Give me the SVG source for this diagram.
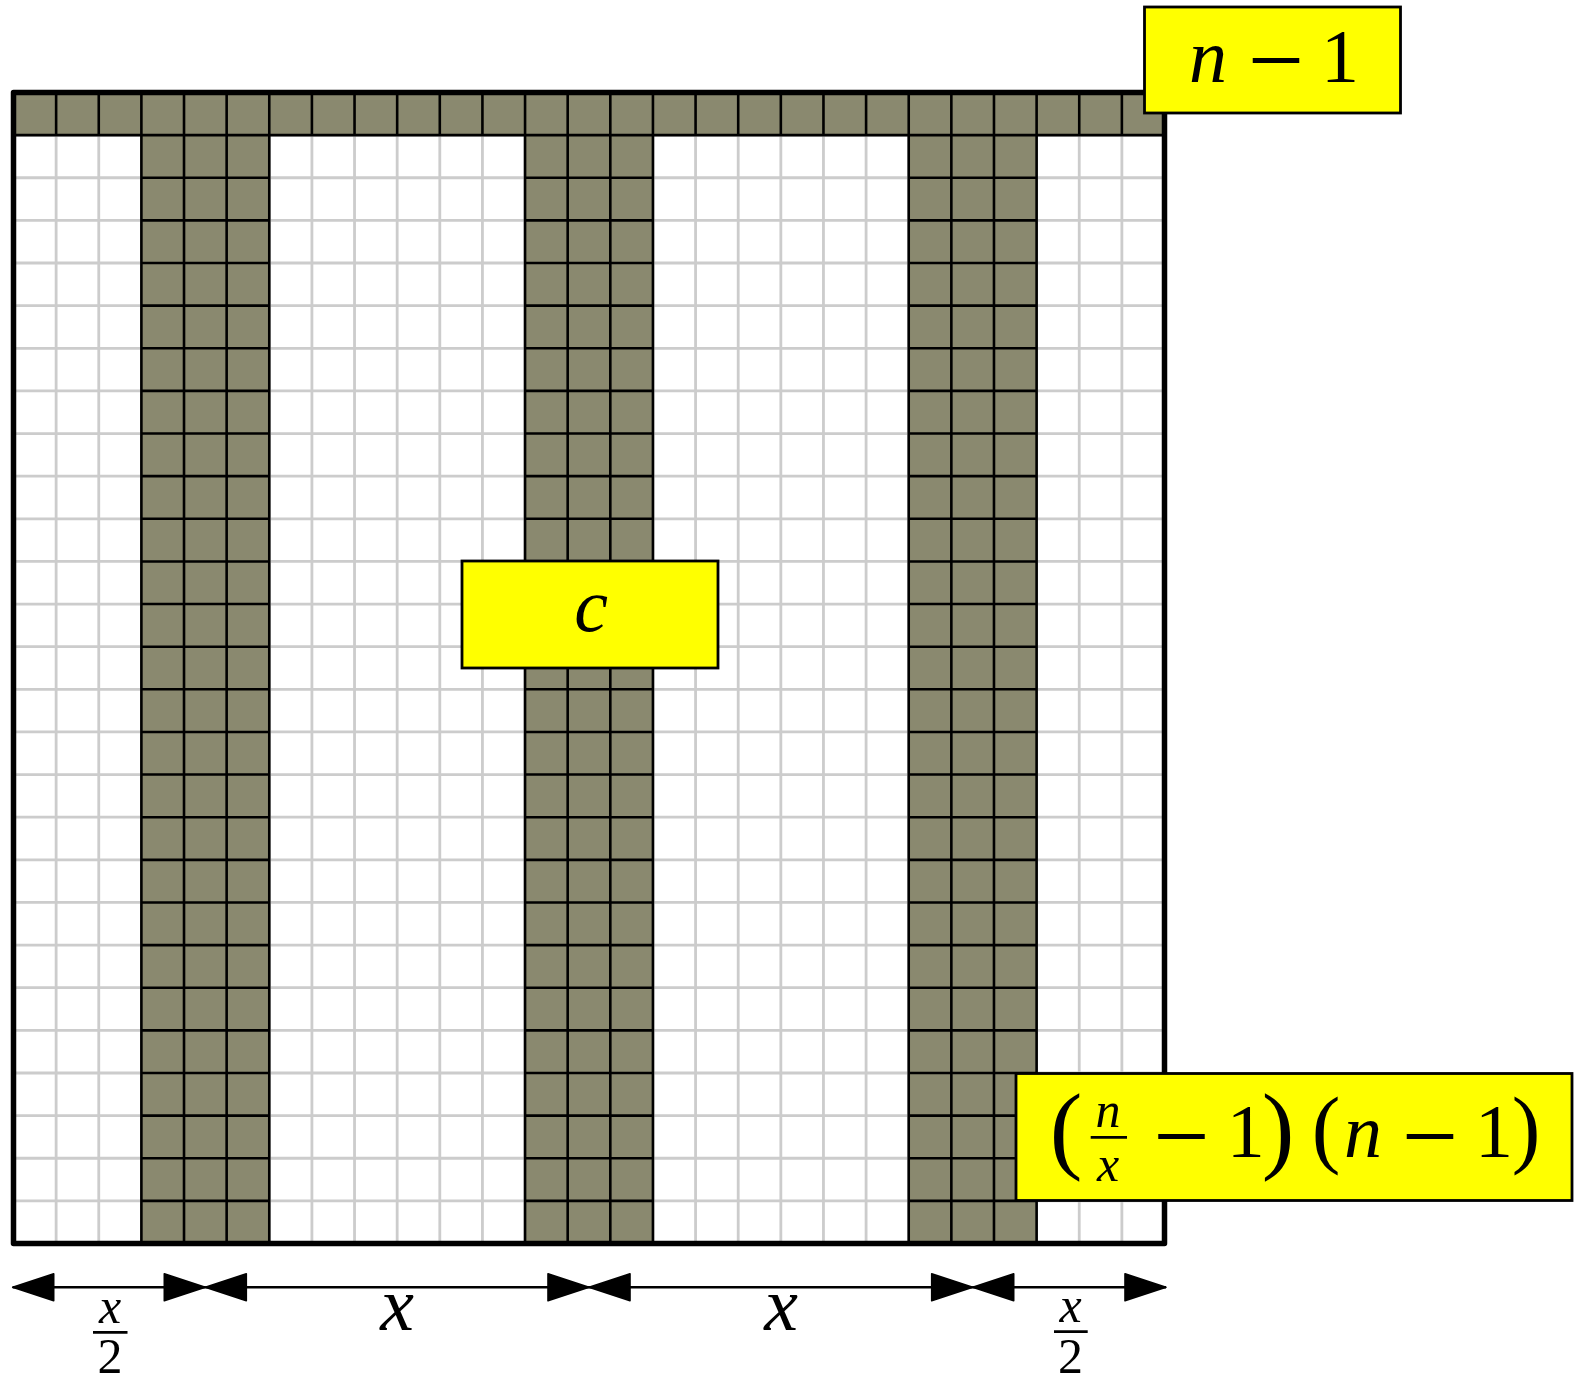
<svg xmlns="http://www.w3.org/2000/svg" width="1580" height="1379" viewBox="0 0 1580 1379">
<style>
.lbl{fill:#ffff00;stroke:#000;stroke-width:2.8}
.t{font-family:"Liberation Serif","Times New Roman",serif;fill:#000;text-anchor:middle}
.i{font-style:italic}
.big{font-size:76px}
.sm{font-size:50px}
.mn{font-size:100px;font-style:normal}
.bar{stroke:#000;stroke-width:2.7}
.dim{stroke:#000;stroke-width:2.6;fill:none;marker-start:url(#ah);marker-end:url(#ah)}
.gl{stroke:#cccccc;stroke-width:2.8;fill:none;vector-effect:non-scaling-stroke}
.bl{stroke:#000;stroke-width:2.6;fill:none;vector-effect:non-scaling-stroke}
.dk{fill:#8a896f}
</style>
<defs>
<marker id="ah" markerUnits="userSpaceOnUse" orient="auto-start-reverse" markerWidth="50" markerHeight="36" viewBox="-4 -18 50 36" refX="41" refY="0">
<path d="M0,-13.5 L41,0 L0,13.5 Z" fill="#000" stroke="#000" stroke-width="1.6" stroke-linejoin="round"/>
</marker>
</defs>
<rect width="1580" height="1379" fill="#fff"/>
<g id="grid">
<g transform="translate(13.5,92.5) scale(42.6296)">
<rect x="0" y="0" width="27" height="27" fill="#fff"/>
<path class="gl" d="M1,0V27M2,0V27M3,0V27M4,0V27M5,0V27M6,0V27M7,0V27M8,0V27M9,0V27M10,0V27M11,0V27M12,0V27M13,0V27M14,0V27M15,0V27M16,0V27M17,0V27M18,0V27M19,0V27M20,0V27M21,0V27M22,0V27M23,0V27M24,0V27M25,0V27M26,0V27M0,1H27M0,2H27M0,3H27M0,4H27M0,5H27M0,6H27M0,7H27M0,8H27M0,9H27M0,10H27M0,11H27M0,12H27M0,13H27M0,14H27M0,15H27M0,16H27M0,17H27M0,18H27M0,19H27M0,20H27M0,21H27M0,22H27M0,23H27M0,24H27M0,25H27M0,26H27"/>
<rect class="dk" x="0" y="0" width="27" height="1"/>
<rect class="dk" x="3" y="0" width="3" height="27"/>
<rect class="dk" x="12" y="0" width="3" height="27"/>
<rect class="dk" x="21" y="0" width="3" height="27"/>
<path class="bl" d="M1,0V1M2,0V1M7,0V1M8,0V1M9,0V1M10,0V1M11,0V1M16,0V1M17,0V1M18,0V1M19,0V1M20,0V1M25,0V1M26,0V1M0,1H27M3,0V27M4,0V27M5,0V27M6,0V27M12,0V27M13,0V27M14,0V27M15,0V27M21,0V27M22,0V27M23,0V27M24,0V27M3,2H6M3,3H6M3,4H6M3,5H6M3,6H6M3,7H6M3,8H6M3,9H6M3,10H6M3,11H6M3,12H6M3,13H6M3,14H6M3,15H6M3,16H6M3,17H6M3,18H6M3,19H6M3,20H6M3,21H6M3,22H6M3,23H6M3,24H6M3,25H6M3,26H6M12,2H15M12,3H15M12,4H15M12,5H15M12,6H15M12,7H15M12,8H15M12,9H15M12,10H15M12,11H15M12,12H15M12,13H15M12,14H15M12,15H15M12,16H15M12,17H15M12,18H15M12,19H15M12,20H15M12,21H15M12,22H15M12,23H15M12,24H15M12,25H15M12,26H15M21,2H24M21,3H24M21,4H24M21,5H24M21,6H24M21,7H24M21,8H24M21,9H24M21,10H24M21,11H24M21,12H24M21,13H24M21,14H24M21,15H24M21,16H24M21,17H24M21,18H24M21,19H24M21,20H24M21,21H24M21,22H24M21,23H24M21,24H24M21,25H24M21,26H24"/>
</g>
<rect x="13.5" y="92.5" width="1151" height="1151" fill="none" stroke="#000" stroke-width="5.5" stroke-linejoin="round"/>
</g>
<g id="connectors">
<line class="dim" x1="12.7" y1="1287.3" x2="205.3" y2="1287.3"/>
<line class="dim" x1="205.3" y1="1287.3" x2="589" y2="1287.3"/>
<line class="dim" x1="589" y1="1287.3" x2="972.7" y2="1287.3"/>
<line class="dim" x1="972.7" y1="1287.3" x2="1166" y2="1287.3"/>
</g>
<g id="label-n-1">
<rect class="lbl" x="1144.5" y="7" width="256" height="106"/>
<text class="t big" y="82"><tspan class="i" x="1208">n</tspan><tspan class="mn" x="1276" y="94">−</tspan><tspan x="1340" y="82">1</tspan></text>
</g>
<g id="label-c">
<rect class="lbl" x="462" y="561" width="256" height="107"/>
<text class="t big i" x="591" y="631">c</text>
</g>
<g id="label-product">
<rect class="lbl" x="1016" y="1073.5" width="556" height="127"/>
<line class="bar" x1="1090.7" y1="1137.3" x2="1127" y2="1137.3"/>
<text class="t big"><tspan x="1066" y="1161" font-size="98">(</tspan><tspan class="i" x="1108" y="1126.7" font-size="50">n</tspan><tspan class="i" x="1108" y="1181" font-size="50">x</tspan><tspan class="mn" x="1181.5" y="1170">−</tspan><tspan x="1245.8" y="1157">1</tspan><tspan x="1278" y="1161" font-size="98">)</tspan><tspan x="1326" y="1157" font-size="86">(</tspan><tspan class="i" x="1363" y="1157">n</tspan><tspan class="mn" x="1430" y="1170">−</tspan><tspan x="1494" y="1157">1</tspan><tspan x="1526" y="1157" font-size="86">)</tspan></text>
</g>
<g id="label-x2-left">
<line class="bar" x1="93" y1="1332.3" x2="127.5" y2="1332.3"/>
<text class="t sm"><tspan class="i" x="110" y="1323">x</tspan><tspan x="110" y="1373">2</tspan></text>
</g>
<g id="label-x-1">
<text class="t big i" x="397" y="1330">x</text>
</g>
<g id="label-x-2">
<text class="t big i" x="781" y="1330">x</text>
</g>
<g id="label-x2-right">
<line class="bar" x1="1054" y1="1331.7" x2="1087.7" y2="1331.7"/>
<text class="t sm"><tspan class="i" x="1070.5" y="1322">x</tspan><tspan x="1070.5" y="1373">2</tspan></text>
</g>
</svg>
